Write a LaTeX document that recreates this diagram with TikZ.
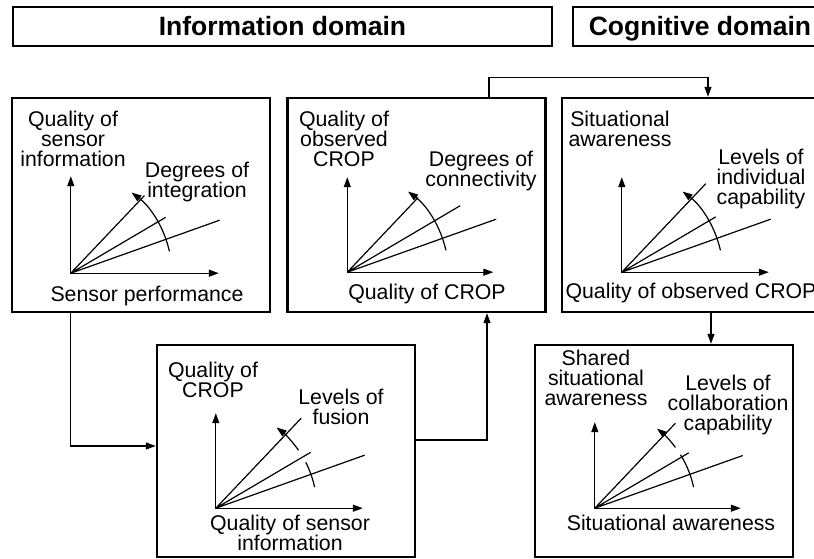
\documentclass[tikz,border=0pt]{standalone}
\usepackage{fontspec}
\setmainfont{Liberation Sans}
\usetikzlibrary{arrows.meta, calc}

\begin{document}
\begin{tikzpicture}
[x=1pt, y=1pt,
 >={Triangle[length=10pt,width=7pt]},
 line width=1.2pt,
 font={\fontsize{21.3}{19.9}\selectfont\lineskiplimit-20pt\relax},
 domainbox/.style={draw, line width=2.4pt, minimum height=39pt,
 text height=19pt, text depth=0pt,
 font=\fontsize{26.5}{30}\selectfont\bfseries},
 panelbox/.style={draw, line width=2.4pt, minimum width=258pt, minimum height=214pt},
 txt/.style={align=center, inner sep=0pt, anchor=north},
 axes/.style={<->},
]
\useasboundingbox (0,0) rectangle (814,558);

\node[domainbox, minimum width=539pt] (info) at (282.5,531.5) {Information domain};
\node[domainbox, minimum width=254pt] (cog)  at (700,531.5)   {Cognitive domain};

\node[panelbox] (p1) at (141,353) {};
\node[panelbox] (p2) at (416.5,353) {};
\node[panelbox, minimum width=256pt] (p3) at (690,353) {};
\node[panelbox, minimum height=212pt] (p4) at (286,107) {};
\node[panelbox, minimum height=212pt] (p5) at (664,107) {};

% sensor performance
\coordinate (o1) at ($(p1.south west)+(60,40)$);
\draw[axes] ($(o1)+(0,97)$) -- (o1) -- ++(148,0);
\draw (o1) -- ++(46.5:107) (o1) -- ++(30.5:110) (o1) -- ++(19.6:158);
\draw[->] ($(o1)+(12.5:101)$) arc[start angle=12.5, end angle=53, radius=101];
\node[txt] (y1) at (73,447.5) {Quality of\\sensor\\information};
\node[txt] (d1) at (197,396.5) {Degrees of\\integration};
\node[anchor=base, inner sep=0pt] (x1) at (147,257) {Sensor performance};

% quality of CROP
\coordinate (o2) at ($(p2.south west)+(61,41)$);
\draw[axes] ($(o2)+(0,95)$) -- (o2) -- ++(146,0);
\draw (o2) -- ++(46.5:103) (o2) -- ++(30.5:131) (o2) -- ++(19.6:158);
\draw[->] ($(o2)+(12.5:101)$) arc[start angle=12.5, end angle=53, radius=101];
\node[txt] (y2) at (344,447.5) {Quality of\\observed\\CROP};
\node[txt] (d2) at (481,407.5) {Degrees of\\connectivity};
\node[anchor=base, inner sep=0pt] (x2) at (427,259) {Quality of CROP};

% observed CROP
\coordinate (o3) at ($(p3.south west)+(61,41)$);
\draw[axes] ($(o3)+(0,95)$) -- (o3) -- ++(147,0);
\draw (o3) -- ++(46.5:122) (o3) -- ++(30.5:109) (o3) -- ++(19.6:158);
\draw[->] ($(o3)+(12.5:101)$) arc[start angle=12.5, end angle=53, radius=101];
\node[txt] (y3) at (620,447.5) {Situational\\awareness};
\node[txt] (d3) at (761,409.5) {Levels of\\individual\\capability};
\node[anchor=base, inner sep=0pt] (x3) at (691,260) {Quality of observed CROP};

% sensor information
\coordinate (o4) at ($(p4.south west)+(60,50)$);
\draw[axes] ($(o4)+(0,95)$) -- (o4) -- ++(147,0);
\draw (o4) -- ++(46.5:124) (o4) -- ++(30.5:110) (o4) -- ++(19.6:158);
\draw ($(o4)+(12:101)$) arc[start angle=12, end angle=27, radius=101];
\draw[->] ($(o4)+(35:101)$) arc[start angle=35, end angle=53, radius=101];
\node[txt] (y4) at (213,196.5) {Quality of\\CROP};
\node[txt] (d4) at (341,169.5) {Levels of\\fusion};
\node[txt] (x4) at (290,43.5) {Quality of sensor\\information};

% situational awareness
\coordinate (o5) at ($(p5.south west)+(61,50)$);
\draw[axes] ($(o5)+(0,86)$) -- (o5) -- ++(146,0);
\draw (o5) -- ++(46.5:117) (o5) -- ++(30.5:109) (o5) -- ++(19.6:157);
\draw ($(o5)+(12:101)$) arc[start angle=12, end angle=32, radius=101];
\draw[->] ($(o5)+(37:101)$) arc[start angle=37, end angle=52, radius=101];
\node[txt] (y5) at (596,208.5) {Shared\\situational\\awareness};
\node[txt] (d5) at (728,183.5) {Levels of\\collaboration\\capability};
\node[anchor=base, inner sep=0pt] (x5) at (671,28) {Situational awareness};

\coordinate (c4) at ([xshift=21pt]p3.south);
\draw[->] (p1.south -| o1) |- ([yshift=5pt]p4.west);
\draw[->] ([yshift=11pt]p4.east) -| ([xshift=70.5pt]p2.south);
\draw[->] ([xshift=72.5pt]p2.north) -- ++(0,19) -| ([xshift=18pt]p3.north);
\draw[->] (c4) -- (c4 |- p5.north);
\end{tikzpicture}
\end{document}
